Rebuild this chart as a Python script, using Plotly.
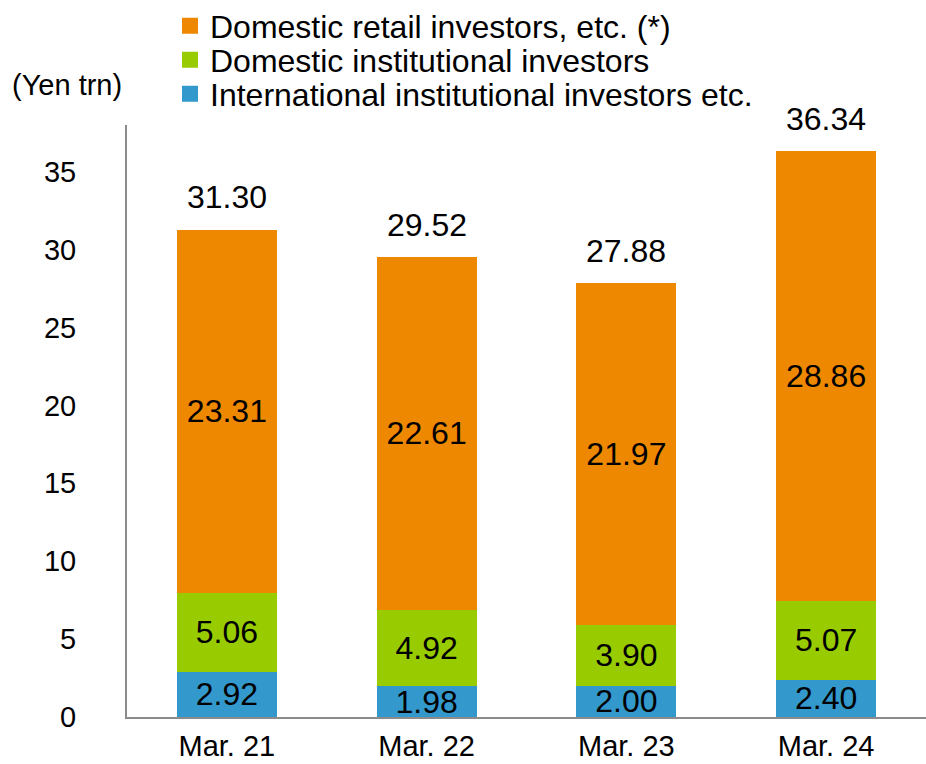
import plotly.graph_objects as go

categories = ["Mar. 21", "Mar. 22", "Mar. 23", "Mar. 24"]
international = [2.92, 1.98, 2.00, 2.40]
domestic_inst = [5.06, 4.92, 3.90, 5.07]
domestic_retail = [23.31, 22.61, 21.97, 28.86]
totals = [31.30, 29.52, 27.88, 36.34]

names = ["International institutional investors etc.",
         "Domestic institutional investors",
         "Domestic retail investors, etc. (*)"]
colors = ["#3399CC", "#99CC00", "#EE8800"]
series = [international, domestic_inst, domestic_retail]

FONT = "Liberation Sans, Arial, sans-serif"
L, T, W, H = 127, 125, 799, 592

fig = go.Figure()
for name, col, vals in zip(names, colors, series):
    fig.add_trace(go.Bar(
        x=categories, y=vals, name=name, marker=dict(color=col, line=dict(width=0)),
        text=[f"{v:.2f}" for v in vals], textposition="inside",
        insidetextanchor="middle", textangle=0, constraintext="none",
        textfont=dict(color="black", size=32, family=FONT),
        showlegend=False, hoverinfo="skip"))

# legend entries (orange on top), each in its own legend box for tight spacing
legend_ids = ["legend3", "legend2", "legend"]
legend_centers = [94, 60, 26]
for name, col, lid in zip(names, colors, legend_ids):
    fig.add_trace(go.Scatter(
        x=[None], y=[None], mode="markers", name=name, legend=lid,
        marker=dict(symbol="square", size=16, color=col)))

for c, t in zip(categories, totals):
    fig.add_annotation(x=c, y=t, text=f"{t:.2f}", showarrow=False,
                       yanchor="bottom", yshift=12,
                       font=dict(size=32, color="black", family=FONT))

fig.add_annotation(xref="paper", yref="paper", x=(10 - L) / W, y=(T + H - 85) / H,
                   xanchor="left", yanchor="middle", text="(Yen trn)", showarrow=False,
                   font=dict(size=29, color="black", family=FONT))

leg_common = dict(xanchor="left", yanchor="middle", font=dict(size=32, family=FONT),
                  itemsizing="trace", bgcolor="rgba(0,0,0,0)", borderwidth=0)
legends = {}
for lid, yc in zip(legend_ids, legend_centers):
    legends[lid] = dict(x=(170 - L) / W, y=(T + H - yc) / H, **leg_common)

fig.update_layout(
    width=926, height=764,
    margin=dict(l=L, r=926 - L - W, t=T, b=764 - T - H, autoexpand=False),
    paper_bgcolor="white", plot_bgcolor="white",
    barmode="stack", bargap=0.5,
    font=dict(family=FONT, color="black"),
    xaxis=dict(showline=True, linecolor="#8C8C8C", linewidth=2, ticks="",
               tickfont=dict(size=29), ticklabelstandoff=2, showgrid=False,
               automargin=False),
    yaxis=dict(range=[0, 38], showline=True, linecolor="#8C8C8C", linewidth=2,
               ticks="", tickvals=[0, 5, 10, 15, 20, 25, 30, 35],
               tickfont=dict(size=29), ticklabelstandoff=43, showgrid=False,
               zeroline=False, automargin=False),
    **legends,
)

fig.write_html("out.html", post_script="document.body.style.margin='0';",
               config={"displayModeBar": False})
